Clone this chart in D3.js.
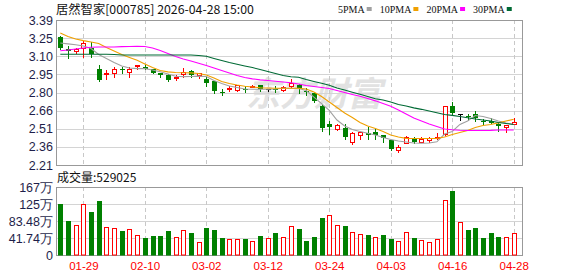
<!DOCTYPE html>
<meta charset="utf-8">
<title>居然智家 日K</title>
<style>
    body { margin: 0; background: #fff; }
    svg { display: block; }
    text { font-family: "Liberation Sans", Arial, sans-serif; }
</style>
<svg width="578" height="276"></svg>
<script src="https://d3js.org/d3.v7.min.js"></script>
<script>

    // ---- data ----
    var stockName = "居然智家", stockCode = "000785", stamp = "2026-04-28 15:00";

    var dates = ["01-26", "01-27", "01-28", "01-29", "01-30", "02-02", "02-03", "02-04", "02-05", "02-06",
        "02-09", "02-10", "02-11", "02-12", "02-13", "02-24", "02-25", "02-26", "02-27", "03-02",
        "03-03", "03-04", "03-05", "03-06", "03-09", "03-10", "03-11", "03-12", "03-13", "03-16",
        "03-17", "03-18", "03-19", "03-20", "03-23", "03-24", "03-25", "03-26", "03-27", "03-30",
        "03-31", "04-01", "04-02", "04-03", "04-07", "04-08", "04-09", "04-10", "04-13", "04-14",
        "04-15", "04-16", "04-17", "04-20", "04-21", "04-22", "04-23", "04-24", "04-27", "04-28"];

    var open = [3.25, 3.15, 3.14, 3.16, 3.165, 2.99, 2.95, 2.96, 2.99, 2.97,
        3.015, 3.01, 2.99, 2.96, 2.94, 2.92, 2.95, 2.975, 2.94, 2.91,
        2.89, 2.805, 2.83, 2.82, 2.83, 2.85, 2.86, 2.825, 2.83, 2.82,
        2.85, 2.865, 2.815, 2.795, 2.69, 2.545, 2.505, 2.515, 2.40, 2.455,
        2.47, 2.48, 2.455, 2.41, 2.335, 2.39, 2.43, 2.40, 2.41, 2.43,
        2.46, 2.69, 2.625, 2.61, 2.625, 2.565, 2.565, 2.54, 2.52, 2.54];
    var high = [3.26, 3.18, 3.16, 3.22, 3.21, 3.02, 2.98, 3.01, 3.01, 3.01,
        3.02, 3.02, 2.995, 2.96, 2.95, 2.94, 3.00, 2.98, 2.955, 2.93,
        2.89, 2.83, 2.855, 2.865, 2.855, 2.865, 2.865, 2.825, 2.855, 2.85,
        2.91, 2.87, 2.835, 2.80, 2.695, 2.565, 2.54, 2.545, 2.48, 2.48,
        2.52, 2.50, 2.455, 2.415, 2.37, 2.45, 2.44, 2.44, 2.44, 2.47,
        2.69, 2.72, 2.625, 2.625, 2.65, 2.585, 2.59, 2.55, 2.535, 2.595];
    var low = [3.15, 3.08, 3.12, 3.09, 3.09, 2.89, 2.91, 2.93, 2.96, 2.93,
        2.99, 2.99, 2.955, 2.93, 2.89, 2.90, 2.93, 2.93, 2.92, 2.85,
        2.80, 2.78, 2.815, 2.81, 2.805, 2.845, 2.815, 2.81, 2.805, 2.81,
        2.845, 2.80, 2.78, 2.725, 2.49, 2.46, 2.495, 2.425, 2.38, 2.42,
        2.425, 2.425, 2.40, 2.33, 2.315, 2.385, 2.39, 2.395, 2.40, 2.42,
        2.455, 2.62, 2.575, 2.58, 2.57, 2.54, 2.55, 2.49, 2.48, 2.54];
    var close = [3.16, 3.14, 3.155, 3.20, 3.11, 2.90, 2.96, 2.99, 2.98, 2.99,
        3.02, 2.99, 2.96, 2.94, 2.90, 2.925, 2.97, 2.94, 2.955, 2.88,
        2.815, 2.80, 2.84, 2.86, 2.825, 2.855, 2.83, 2.825, 2.82, 2.845,
        2.875, 2.83, 2.81, 2.73, 2.515, 2.52, 2.535, 2.435, 2.47, 2.475,
        2.455, 2.455, 2.43, 2.34, 2.355, 2.44, 2.395, 2.425, 2.43, 2.435,
        2.69, 2.63, 2.625, 2.605, 2.595, 2.56, 2.555, 2.53, 2.535, 2.56];

    // volume in 万
    var volume = [125.2, 83.5, 73.7, 124.5, 105.6, 133.4, 68.7, 66.3, 58.9, 63.8,
        49.1, 42.5, 46.7, 46.7, 58.9, 44.2, 60.6, 54.0, 31.9, 67.0,
        61.4, 42.5, 39.3, 39.3, 39.3, 34.4, 47.4, 41.7, 54.0, 44.2,
        71.2, 64.6, 34.4, 44.9, 91.6, 98.2, 73.7, 71.2, 56.5, 51.6,
        49.1, 44.2, 49.1, 39.3, 34.4, 56.5, 42.5, 36.8, 31.9, 39.3,
        135.0, 157.9, 81.0, 61.4, 67.0, 42.5, 54.0, 44.9, 44.2, 52.9025];

    var ma5 = [3.203, 3.196, 3.189, 3.178, 3.158, 3.109, 3.077, 3.044, 3.016, 3.000,
        2.994, 2.994, 2.983, 2.969, 2.951, 2.932, 2.929, 2.930, 2.933, 2.930,
        2.898, 2.873, 2.853, 2.841, 2.828, 2.826, 2.826, 2.826, 2.828, 2.834,
        2.834, 2.833, 2.816, 2.763, 2.710, 2.654, 2.576, 2.527, 2.499, 2.483,
        2.468, 2.454, 2.434, 2.417, 2.405, 2.397, 2.389, 2.387, 2.389, 2.399,
        2.462, 2.483, 2.540, 2.568, 2.613, 2.605, 2.588, 2.568, 2.552, 2.540];
    var ma10 = [3.284, 3.256, 3.235, 3.222, 3.211, 3.199, 3.166, 3.138, 3.109, 3.085,
        3.062, 3.032, 3.003, 2.979, 2.968, 2.963, 2.961, 2.960, 2.955, 2.942,
        2.918, 2.890, 2.873, 2.861, 2.851, 2.845, 2.839, 2.837, 2.834, 2.834,
        2.834, 2.834, 2.828, 2.804, 2.767, 2.723, 2.678, 2.633, 2.597, 2.556,
        2.527, 2.507, 2.483, 2.454, 2.438, 2.427, 2.426, 2.426, 2.426, 2.427,
        2.438, 2.458, 2.474, 2.491, 2.515, 2.531, 2.540, 2.553, 2.568, 2.582];
    var ma20 = [3.140, 3.146, 3.154, 3.162, 3.168, 3.170, 3.170, 3.170, 3.173, 3.174,
        3.176, 3.174, 3.162, 3.142, 3.117, 3.093, 3.073, 3.056, 3.038, 3.020,
        2.999, 2.979, 2.959, 2.938, 2.922, 2.911, 2.903, 2.898, 2.892, 2.885,
        2.879, 2.869, 2.857, 2.849, 2.841, 2.833, 2.816, 2.800, 2.784, 2.769,
        2.751, 2.732, 2.710, 2.688, 2.658, 2.625, 2.593, 2.568, 2.544, 2.523,
        2.503, 2.497, 2.493, 2.491, 2.491, 2.491, 2.492, 2.495, 2.495, 2.495];
    var ma30 = [3.111, 3.111, 3.111, 3.111, 3.111, 3.111, 3.111, 3.109, 3.105, 3.105,
        3.105, 3.105, 3.105, 3.105, 3.105, 3.105, 3.105, 3.105, 3.101, 3.095,
        3.077, 3.060, 3.044, 3.030, 3.016, 3.003, 2.987, 2.971, 2.955, 2.938,
        2.928, 2.924, 2.906, 2.890, 2.875, 2.859, 2.837, 2.820, 2.802, 2.785,
        2.767, 2.749, 2.739, 2.723, 2.702, 2.690, 2.675, 2.663, 2.649, 2.635,
        2.621, 2.614, 2.605, 2.594, 2.584, 2.576, 2.568, 2.556, 2.548, 2.540];

    var maNames = ["5PMA", "10PMA", "20PMA", "30PMA"];
    var maColors = ["#a0a0a0", "#f0a000", "#ff00ff", "#006a35"];

    var priceTicks = [3.39, 3.2425, 3.095, 2.9475, 2.80, 2.6525, 2.505, 2.3575, 2.21];
    var priceTickLabels = ["3.39", "3.25", "3.10", "2.95", "2.80", "2.66", "2.51", "2.36", "2.21"];
    var volTicks = [0, 41.74, 83.48, 125.22, 166.96];
    var volTickLabels = ["0", "41.74万", "83.48万", "125万", "167万"];
    var dateTicks = ["01-29", "02-10", "03-02", "03-12", "03-24", "04-03", "04-16", "04-28"];

    // ---- layout ----
    var svg = d3.select("svg");
    var left = 56, right = 522;
    var pTop = 20, pBot = 165, vTop = 187, vBot = 255;
    var red = "#ff0000", green = "#008000", axisText = "#1e1e4a";

    var x = d3.scaleLinear().domain([0, dates.length - 1]).range([60.3, 513.7]);
    var y = d3.scaleLinear().domain([2.21, 3.39]).range([pBot, pTop]);
    var yv = d3.scaleLinear().domain([0, 166.96]).range([vBot, vTop]);

    function px(v) { return Math.round(v) + 0.5; }

    // watermark
    svg.append("text")
        .attr("x", 246).attr("y", 106)
        .attr("fill", "#e2e2e2")
        .style("font-family", "'Noto Sans CJK SC', sans-serif")
        .style("font-size", "34px")
        .style("font-weight", "bold")
        .style("font-style", "italic")
        .text("东方财富");

    // horizontal grid
    var grid = svg.append("g");
    grid.selectAll("line.hp")
        .data(priceTicks.slice(1, -1))
        .enter().append("line")
        .attr("x1", left).attr("x2", right)
        .attr("y1", function (d) { return px(y(d)); })
        .attr("y2", function (d) { return px(y(d)); })
        .attr("stroke", "#d4d4d4");

    grid.selectAll("line.hv")
        .data(volTicks.slice(1, -1))
        .enter().append("line")
        .attr("x1", left).attr("x2", right)
        .attr("y1", function (d) { return px(yv(d)); })
        .attr("y2", function (d) { return px(yv(d)); })
        .attr("stroke", "#d4d4d4");

    // vertical dashed grid at date ticks
    var tickIdx = dateTicks.map(function (d) { return dates.indexOf(d); });
    [[pTop, pBot], [vTop, vBot]].forEach(function (r) {
        grid.selectAll(null)
            .data(tickIdx)
            .enter().append("line")
            .attr("x1", function (i) { return px(x(i)); })
            .attr("x2", function (i) { return px(x(i)); })
            .attr("y1", r[0]).attr("y2", r[1])
            .attr("stroke", "#c8c8c8")
            .attr("stroke-dasharray", "4,3");
    });

    // panel borders
    [[pTop, pBot], [vTop, vBot]].forEach(function (r) {
        svg.append("rect")
            .attr("x", left + 0.5).attr("y", r[0] + 0.5)
            .attr("width", right - left).attr("height", r[1] - r[0])
            .attr("fill", "none")
            .attr("stroke", "#999");
    });

    // candles
    var candle = svg.append("g")
        .selectAll("g")
        .data(d3.range(dates.length))
        .enter().append("g");

    function candleColor(i) {
        if (close[i] > open[i]) return red;
        if (close[i] < open[i]) return green;
        return "#000";
    }

    candle.append("line")
        .attr("x1", function (i) { return px(x(i)); })
        .attr("x2", function (i) { return px(x(i)); })
        .attr("y1", function (i) { return Math.round(y(high[i])); })
        .attr("y2", function (i) { return Math.round(y(low[i])) + 1; })
        .attr("stroke", candleColor);

    candle.append("rect")
        .attr("x", function (i) {
            return close[i] > open[i] ? Math.round(x(i)) - 1.5 : Math.round(x(i)) - 2;
        })
        .attr("width", function (i) { return close[i] > open[i] ? 4 : 5; })
        .attr("y", function (i) {
            var t = Math.round(y(Math.max(open[i], close[i])));
            return close[i] > open[i] ? t + 0.5 : t;
        })
        .attr("height", function (i) {
            var h = Math.round(y(Math.min(open[i], close[i]))) - Math.round(y(Math.max(open[i], close[i])));
            return Math.max(h, 1);
        })
        .attr("fill", function (i) { return close[i] > open[i] ? "#fff" : candleColor(i); })
        .attr("stroke", function (i) { return close[i] > open[i] ? red : "none"; });

    // moving averages
    var line = d3.line()
        .x(function (d, i) { return x(i); })
        .y(function (d) { return y(d); });

    [ma5, ma10, ma20, ma30].forEach(function (s, k) {
        svg.append("path")
            .datum(s)
            .attr("d", line)
            .attr("fill", "none")
            .attr("stroke", maColors[k])
            .attr("stroke-width", 1.1);
    });

    // volume bars
    function volUp(i) {
        return close[i] >= open[i] || (i > 0 && close[i] >= close[i - 1]);
    }

    svg.append("g")
        .selectAll("rect")
        .data(d3.range(volume.length))
        .enter().append("rect")
        .attr("x", function (i) { return volUp(i) ? Math.round(x(i)) - 1.5 : Math.round(x(i)) - 2; })
        .attr("width", function (i) { return volUp(i) ? 4 : 5; })
        .attr("y", function (i) {
            var t = Math.round(yv(volume[i]));
            return volUp(i) ? t + 0.5 : t;
        })
        .attr("height", function (i) {
            var h = vBot - Math.round(yv(volume[i]));
            return volUp(i) ? h - 0.5 : h + 0.5;
        })
        .attr("fill", function (i) { return volUp(i) ? "#fff" : green; })
        .attr("stroke", function (i) { return volUp(i) ? red : "none"; });

    // axis labels
    svg.append("g")
        .selectAll("text")
        .data(priceTicks)
        .enter().append("text")
        .attr("x", 53)
        .attr("y", function (d) { return y(d) + 4.5; })
        .attr("text-anchor", "end")
        .attr("fill", axisText)
        .style("font-size", "12.5px")
        .text(function (d, i) { return priceTickLabels[i]; });

    svg.append("g")
        .selectAll("text")
        .data(volTicks)
        .enter().append("text")
        .attr("x", 53)
        .attr("y", function (d) { return yv(d) + 4.5; })
        .attr("text-anchor", "end")
        .attr("fill", axisText)
        .style("font-size", "12.5px")
        .text(function (d, i) { return volTickLabels[i]; });

    svg.append("g")
        .selectAll("text")
        .data(tickIdx)
        .enter().append("text")
        .attr("x", function (i) { return x(i) + 0.5; })
        .attr("y", 270)
        .attr("text-anchor", "middle")
        .attr("fill", red)
        .style("font-size", "11.5px")
        .text(function (i) { return dates[i]; });

    // titles
    svg.append("text")
        .attr("x", 56).attr("y", 14)
        .attr("fill", "#111")
        .style("font-family", "'Noto Sans CJK SC', sans-serif")
        .style("font-size", "12.3px")
        .text(stockName + "[" + stockCode + "] " + stamp);

    svg.append("text")
        .attr("x", 57).attr("y", 182)
        .attr("fill", "#111")
        .style("font-family", "'Noto Sans CJK SC', sans-serif")
        .style("font-size", "12px")
        .text("成交量:" + Math.round(volume[volume.length - 1] * 10000));

    // legend
    var lx = 338;
    maNames.forEach(function (n, k) {
        var t = svg.append("text")
            .attr("x", lx).attr("y", 13)
            .attr("fill", "#111")
            .style("font-family", "'Liberation Serif', serif")
            .style("font-size", "10px")
            .text(n);
        var w = t.node().getComputedTextLength();
        svg.append("rect")
            .attr("x", lx + w + 2).attr("y", 7)
            .attr("width", 5).attr("height", 4)
            .attr("fill", maColors[k]);
        lx += w + 15;
    });

</script>
